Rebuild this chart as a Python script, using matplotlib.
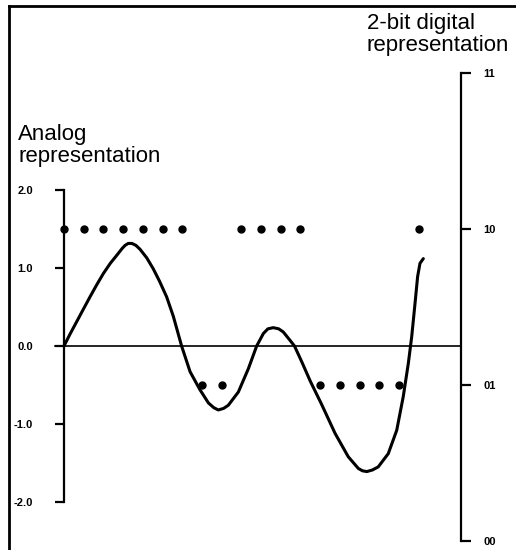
import matplotlib
matplotlib.use("Agg")
import matplotlib.pyplot as plt
from matplotlib.lines import Line2D

plt.rcParams["font.family"] = ["Liberation Sans", "DejaVu Sans"]

# analog signal (time in sample periods, value in analog units)
signal_t = [0.0, 0.3, 0.64, 1.0, 1.32, 1.65, 2.0, 2.35, 2.67, 2.95, 3.1, 3.26, 3.45,
            3.65, 3.86, 4.2, 4.53, 4.85, 5.21, 5.55, 5.97, 6.4, 6.9, 7.33, 7.6, 7.83,
            8.1, 8.34, 8.85, 9.36, 9.78, 10.12, 10.35, 10.62, 10.9, 11.13, 11.45, 11.7,
            12.1, 12.5, 13.08, 13.76, 14.43, 14.94, 15.15, 15.37, 15.65, 15.95, 16.46,
            16.89, 17.22, 17.48, 17.65, 17.82, 17.95, 18.07, 18.24]
signal_v = [0.0, 0.15, 0.31, 0.48, 0.63, 0.78, 0.93, 1.06, 1.16, 1.25, 1.29, 1.315, 1.315,
            1.29, 1.24, 1.13, 0.99, 0.83, 0.63, 0.38, 0.0, -0.33, -0.56, -0.73, -0.79, -0.82,
            -0.8, -0.76, -0.59, -0.29, 0.0, 0.16, 0.22, 0.235, 0.22, 0.18, 0.08, 0.0,
            -0.22, -0.45, -0.75, -1.12, -1.42, -1.57, -1.6, -1.61, -1.59, -1.55, -1.38,
            -1.08, -0.65, -0.22, 0.12, 0.55, 0.89, 1.06, 1.12]

# 2-bit samples: 0 = "00", 1 = "01", 2 = "10", 3 = "11"
sample_t = list(range(19))
sample_code = [2, 2, 2, 2, 2, 2, 2, 1, 1, 2, 2, 2, 2, 1, 1, 1, 1, 1, 2]

analog_ticks = [-2.0, -1.0, 0.0, 1.0, 2.0]
analog_labels = ["-2.0", "-1.0", "0.0", "1.0", "2.0"]
digital_ticks = [0, 1, 2, 3]
digital_labels = ["00", "01", "10", "11"]

W, H = 516, 550
x0_px, dx_px = 64, 19.7      # time 0 and one sample period
y0_px, dy_px = 346, 78       # analog 0 and one analog unit
right_axis_px = 461

fig = plt.figure(figsize=(W / 100, H / 100), dpi=100)
ax = fig.add_axes([0, 0, 1, 1])
ax.set_xlim(-x0_px / dx_px, (W - x0_px) / dx_px)
ylo, yhi = (y0_px - H) / dy_px, y0_px / dy_px
ax.set_ylim(ylo, yhi)
ax.patch.set_visible(False)

# digital axis: code c sits at analog value 2*c - 2.5
ax2 = ax.twinx()
ax2.set_ylim((ylo + 2.5) / 2, (yhi + 2.5) / 2)

for a in (ax, ax2):
    for s in a.spines.values():
        s.set_visible(False)
    a.tick_params(axis="x", bottom=False, labelbottom=False, top=False, labeltop=False)

ax.spines["left"].set_visible(True)
ax.spines["left"].set_position(("data", 0))
ax.spines["left"].set_bounds(-2, 2)
ax.spines["left"].set_linewidth(1.6)
ax.set_yticks(analog_ticks)
ax.set_yticklabels(analog_labels, fontweight="bold", fontsize=8)
ax.tick_params(axis="y", direction="out", length=6.5, width=1.6, pad=16)

ax2.spines["right"].set_visible(True)
ax2.spines["right"].set_position(("data", (right_axis_px - x0_px) / dx_px))
ax2.spines["right"].set_bounds(0, 3)
ax2.spines["right"].set_linewidth(1.6)
ax2.set_yticks(digital_ticks)
ax2.set_yticklabels(digital_labels, fontweight="bold", fontsize=8)
ax2.tick_params(axis="y", direction="out", length=7, width=1.6, pad=9)

ax.axhline(0, xmin=55 / W, xmax=right_axis_px / W, color="black", lw=1.2)
ax.plot(signal_t, signal_v, color="black", lw=2.2, solid_capstyle="round",
        solid_joinstyle="round")
ax2.plot(sample_t, sample_code, "o", color="black", ms=5)

fig.text(18 / W, 1 - 124 / H, "Analog\nrepresentation", fontsize=16,
         va="top", ha="left", linespacing=1.08)
fig.text(367 / W, 1 - 13 / H, "2-bit digital\nrepresentation", fontsize=16,
         va="top", ha="left", linespacing=1.08)

# outer frame (top and left edges)
fig.add_artist(Line2D([9 / W, 9 / W], [0, 1 - 6 / H], transform=fig.transFigure,
                      color="black", lw=2))
fig.add_artist(Line2D([9 / W, 1], [1 - 6 / H, 1 - 6 / H], transform=fig.transFigure,
                      color="black", lw=2))

fig.savefig("out.png", dpi=100)
